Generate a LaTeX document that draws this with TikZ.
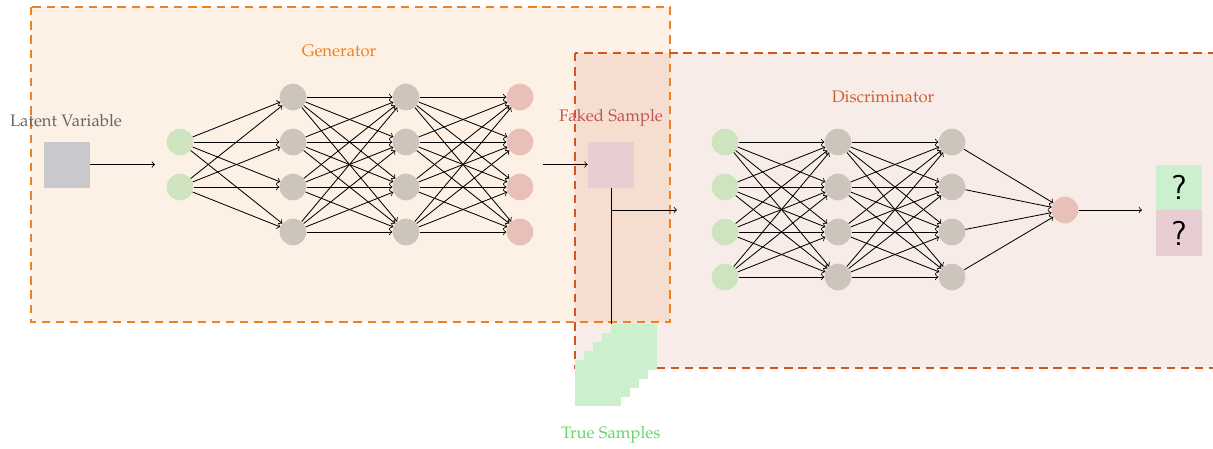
\documentclass[tikz,border=0pt]{standalone}
\usepackage[T1]{fontenc}
\usepackage{mathpazo}
\usetikzlibrary{positioning}

\definecolor{genorange}{RGB}{240,128,32}
\definecolor{disred}{RGB}{214,84,36}
\definecolor{disfill}{RGB}{190,95,60}
\definecolor{distext}{RGB}{205,95,55}
\definecolor{faketext}{RGB}{190,85,85}
\definecolor{truetext}{RGB}{105,212,105}
\definecolor{neugreen}{RGB}{206,228,190}
\definecolor{neugray}{RGB}{205,196,188}
\definecolor{neupink}{RGB}{232,192,184}
\definecolor{latgray}{RGB}{200,200,205}
\definecolor{fakepink}{RGB}{232,205,210}
\definecolor{truegreen}{RGB}{204,240,206}

\tikzset{
  neuron/.style={circle, minimum size=16pt, inner sep=0pt},
  sample/.style={rectangle, minimum size=27.6pt, inner sep=0pt},
  link/.style={->, line width=0.5pt},
  frame/.style={line width=1.2pt, dash pattern=on 5pt off 3.5pt},
  guess/.style={sample, font=\usefont{OT1}{cmss}{m}{n}\huge},
}

\begin{document}
\begin{tikzpicture}[x=0.6pt,y=0.6pt,yscale=-1,xscale=1]
\useasboundingbox (0,0) rectangle (1213,448);

% boxes
\fill [genorange, fill opacity=0.12] (31,7) rectangle (670,322);
\fill [disfill, fill opacity=0.12] (575,53) rectangle (1225,368);
\draw [genorange, frame] (31,7) rectangle (670,322);
\draw [disred, frame] (575,53) rectangle (1225,368);

% titles
\node [text=genorange] (gtitle) at (339,51) {Generator};
\node [text=distext] (dtitle) at (883,97) {Discriminator};

% generator
\node [text=black!60] (lattext) at (66,121) {Latent Variable};
\node [sample, fill=latgray] (lat) at (67,164.5) {};
\coordinate (gstart) at (155,164.5);
\draw [link] (lat) -- (gstart);

\foreach \i/\y in {1/142,2/187}
  \node [neuron, fill=neugreen] (gin-\i) at (180,\y) {};
\foreach \i/\y in {1/97,2/142,3/187,4/232} {
  \node [neuron, fill=neugray] (gha-\i) at (293,\y) {};
  \node [neuron, fill=neugray] (ghb-\i) at (406,\y) {};
  \node [neuron, fill=neupink] (gout-\i) at (520,\y) {};
}
\foreach \i in {1,2}
  \foreach \j in {1,...,4}
    \draw [link] (gin-\i) -- (gha-\j);
\foreach \i in {1,...,4}
  \foreach \j in {1,...,4} {
    \draw [link] (gha-\i) -- (ghb-\j);
    \draw [link] (ghb-\i) -- (gout-\j);
  }

% faked and true samples
\coordinate (gend) at (543,164.5);
\node [text=faketext] (fakelabel) at (611,118) {Faked Sample};
\node [sample, fill=fakepink] (fake) at (611,164.5) {};
\draw [link] (gend) -- (fake);

\foreach \k in {1,...,5}
  \node [sample, fill=truegreen] (ts-\k) at ({598+9*(\k-1)},{383-9*(\k-1)}) {};
\node [text=truetext] (truelabel) at (611,435) {True Samples};

\draw [line width=0.5pt] (fake.south) -- (fake.south |- ts-5.north);
\coordinate (branch) at (611,210);
\coordinate (dstart) at (677,210);
\draw [link] (branch) -- (dstart);

% discriminator
\foreach \i/\y in {1/142,2/187,3/232,4/277} {
  \node [neuron, fill=neugreen] (din-\i) at (725,\y) {};
  \node [neuron, fill=neugray] (dha-\i) at (838,\y) {};
  \node [neuron, fill=neugray] (dhb-\i) at (952,\y) {};
}
\node [neuron, fill=neupink] (dout) at (1065,210) {};
\foreach \i in {1,...,4} {
  \foreach \j in {1,...,4} {
    \draw [link] (din-\i) -- (dha-\j);
    \draw [link] (dha-\i) -- (dhb-\j);
  }
  \draw [link] (dhb-\i) -- (dout);
}
\coordinate (dend) at (1142,210);
\draw [link] (dout) -- (dend);

\node [guess, fill=truegreen] (res-t) at (1179,187.5) {?};
\node [guess, fill=fakepink] (res-f) at (1179,233) {?};

\end{tikzpicture}
\end{document}
